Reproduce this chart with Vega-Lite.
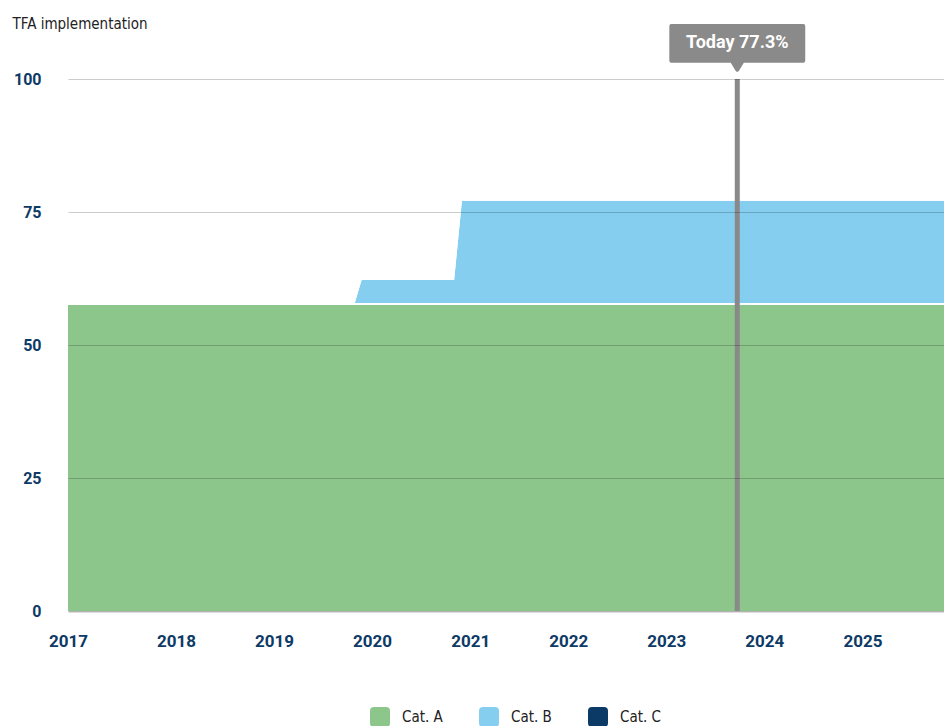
{
  "$schema": "https://vega.github.io/schema/vega-lite/v6.json",
  "width": 876,
  "height": 532,
  "autosize": {"type": "none"},
  "padding": {"left": 68, "top": 79, "right": 0, "bottom": 115},
  "background": "white",
  "config": {"view": {"stroke": null}},
  "datasets": {
    "series": [
      {"date": "2016-11-25", "cat": "Cat. A", "value": 57.7},
      {"date": "2016-11-25", "cat": "Cat. B", "value": 0},
      {"date": "2016-11-25", "cat": "Cat. C", "value": 0},
      {"date": "2019-10-24", "cat": "Cat. A", "value": 57.7},
      {"date": "2019-10-24", "cat": "Cat. B", "value": 0},
      {"date": "2019-10-24", "cat": "Cat. C", "value": 0},
      {"date": "2019-11-21", "cat": "Cat. A", "value": 57.7},
      {"date": "2019-11-21", "cat": "Cat. B", "value": 4.7},
      {"date": "2019-11-21", "cat": "Cat. C", "value": 0},
      {"date": "2020-10-30", "cat": "Cat. A", "value": 57.7},
      {"date": "2020-10-30", "cat": "Cat. B", "value": 4.7},
      {"date": "2020-10-30", "cat": "Cat. C", "value": 0},
      {"date": "2020-11-28", "cat": "Cat. A", "value": 57.7},
      {"date": "2020-11-28", "cat": "Cat. B", "value": 19.6},
      {"date": "2020-11-28", "cat": "Cat. C", "value": 0},
      {"date": "2025-11-01", "cat": "Cat. A", "value": 57.7},
      {"date": "2025-11-01", "cat": "Cat. B", "value": 19.6},
      {"date": "2025-11-01", "cat": "Cat. C", "value": 0}
    ],
    "today": [{"date": "2023-09-23", "label": "Today 77.3%"}]
  },
  "layer": [
    {
      "data": {"name": "series"},
      "transform": [
        {"stack": "value", "groupby": ["date"], "sort": [{"field": "cat", "order": "ascending"}], "as": ["v0", "v1"]}
      ],
      "layer": [
        {
          "mark": {"type": "area", "opacity": 1},
          "encoding": {
            "x": {
              "field": "date", "type": "temporal",
              "scale": {"type": "utc", "domain": [1480032000000, 1761955200000]},
              "axis": {
                "values": [1480032000000, 1514764800000, 1546300800000, 1577836800000, 1609459200000, 1640995200000, 1672531200000, 1704067200000, 1735689600000],
                "labelExpr": "utcFormat(toNumber(datum.value) + 3456000000, '%Y')",
                "title": null, "grid": false, "ticks": false, "tickSize": 0,
                "domainColor": "#dddddd", "domainWidth": 3,
                "labelFont": "Roboto", "labelFontWeight": "bold", "labelFontSize": 17,
                "labelColor": "#0E3A66", "labelPadding": 22,
                "labelFlush": false, "labelOverlap": false, "labelBound": false
              }
            },
            "y": {
              "field": "v1", "type": "quantitative",
              "scale": {"domain": [0, 100], "nice": false},
              "axis": {
                "values": [0, 25, 50, 75, 100],
                "title": "TFA implementation", "titleAngle": 0, "titleX": -56, "titleY": -50.5,
                "titleAlign": "left", "titleBaseline": "alphabetic",
                "titleFont": "'DejaVu Sans Condensed', sans-serif",
                "titleFontSize": 15, "titleFontWeight": "normal", "titleColor": "#222222",
                "domain": false, "ticks": false, "tickSize": 0, "labelPadding": 27,
                "labelFont": "Roboto", "labelFontWeight": "bold", "labelFontSize": 16,
                "labelColor": "#0E3A66", "gridColor": "#000000", "gridOpacity": 0.2, "zindex": 1
              }
            },
            "y2": {"field": "v0"},
            "color": {
              "field": "cat", "type": "nominal",
              "scale": {"domain": ["Cat. A", "Cat. B", "Cat. C"], "range": ["#8DC68A", "#86CEEF", "#0B3A66"]},
              "legend": {
                "title": null, "orient": "none", "legendX": 302, "legendY": 628, "direction": "horizontal",
                "symbolType": "M-1,-0.6 Q-1,-1 -0.6,-1 L0.6,-1 Q1,-1 1,-0.6 L1,0.6 Q1,1 0.6,1 L-0.6,1 Q-1,1 -1,0.6 Z",
                "symbolSize": 400, "symbolStrokeWidth": 0, "symbolOpacity": 1,
                "labelFont": "'DejaVu Sans Condensed', sans-serif",
                "labelFontSize": 15, "labelColor": "#222222", "labelOffset": 12, "columnPadding": 36, "padding": 0
              }
            }
          }
        },
        {
          "mark": {"type": "line", "color": "white", "strokeWidth": 2},
          "encoding": {
            "x": {"field": "date", "type": "temporal"},
            "y": {"field": "v1", "type": "quantitative"},
            "detail": {"field": "cat"}
          }
        }
      ]
    },
    {
      "data": {"name": "today"},
      "layer": [
        {
          "mark": {"type": "rule", "color": "#898989", "strokeWidth": 5},
          "encoding": {"x": {"field": "date", "type": "temporal"}}
        },
        {
          "mark": {
            "type": "point",
            "shape": "M-0.97,-0.255 L0.97,-0.255 L0.97,0.255 L0.08,0.255 L0,0.3875 L-0.08,0.255 L-0.97,0.255 Z",
            "size": 18496, "filled": true, "color": "#8a8a8a", "stroke": "#8a8a8a",
            "strokeWidth": 4, "strokeJoin": "round", "opacity": 1
          },
          "encoding": {
            "x": {"field": "date", "type": "temporal"},
            "y": {"datum": 106.7, "type": "quantitative"}
          }
        },
        {
          "mark": {"type": "text", "color": "white", "font": "Roboto", "fontWeight": "bold", "fontSize": 18, "baseline": "middle", "dy": 0},
          "encoding": {
            "x": {"field": "date", "type": "temporal"},
            "y": {"datum": 106.7, "type": "quantitative"},
            "text": {"field": "label"}
          }
        }
      ]
    }
  ]
}
